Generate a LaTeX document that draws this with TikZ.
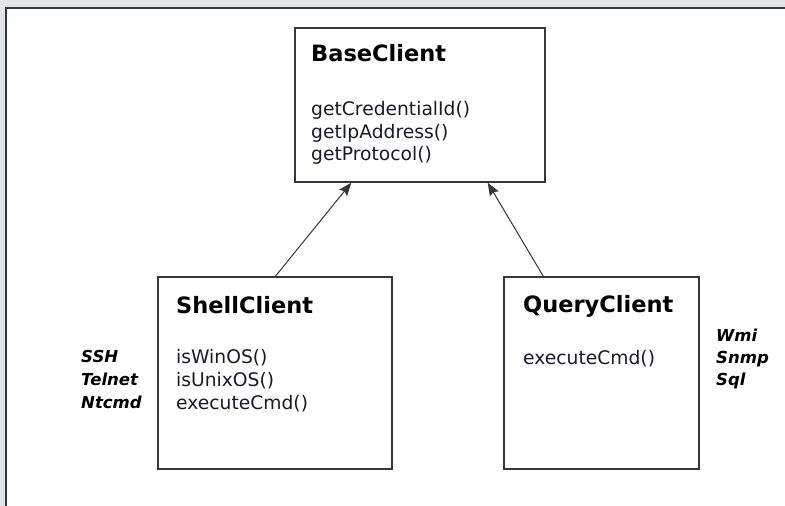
\documentclass[tikz,border=0pt]{standalone}
\usepackage{fontspec}
\setmainfont{DejaVu Sans}
\usetikzlibrary{calc,arrows.meta}
\definecolor{pagegray}{RGB}{227,230,232}
\definecolor{linegray}{RGB}{55,55,55}
\definecolor{methodink}{RGB}{25,25,45}
\tikzset{
	classbox/.style={draw=linegray, line width=1.3pt, fill=white, inner sep=0pt},
	classtitle/.style={anchor=base west, inner sep=0pt, font=\fontsize{22.5}{27}\selectfont\bfseries},
	methodline/.style={anchor=base west, inner sep=0pt, text=methodink, font=\fontsize{18.7}{22}\selectfont},
	protolabel/.style={anchor=base west, inner sep=0pt, font=\fontsize{16.5}{22}\selectfont\bfseries\itshape},
	inherit/.style={draw=linegray, line width=1pt, -{Stealth[length=13pt, width=10pt, inset=2pt]}}
}
\begin{document}
\begin{tikzpicture}[x=1pt, y=-1pt]
		%%%%% FRAME %%%%%
		\fill[pagegray] (0, 0) rectangle (785, 506);
		\useasboundingbox (0, 0) rectangle (785, 506);
		\draw[fill=white, draw=linegray, line width=1.8pt] (6, 8) rectangle (800, 520);
		
		%%%%% CLASSES %%%%%
		\node[classbox, minimum width=250, minimum height=154] (base) at (420, 105) {};
		\node[classbox, minimum width=234, minimum height=192] (shell) at (275, 373) {};
		\node[classbox, minimum width=195, minimum height=192] (query) at (601.5, 373) {};
		
		\node[classtitle] (base-title) at (311, 61) {BaseClient};
		\node[methodline] (base-m1) at (311, 115.5) {getCredentialId()};
		\node[methodline] (base-m2) at (311, 138) {getIpAddress()};
		\node[methodline] (base-m3) at (311, 160.5) {getProtocol()};
		
		\node[classtitle] (shell-title) at (176, 313) {ShellClient};
		\node[methodline] (shell-m1) at (176, 363.5) {isWinOS()};
		\node[methodline] (shell-m2) at (176, 386.5) {isUnixOS()};
		\node[methodline] (shell-m3) at (176, 409.5) {executeCmd()};
		
		\node[classtitle] (query-title) at (523, 312) {QueryClient};
		\node[methodline] (query-m1) at (523, 364) {executeCmd()};
		
		%%%%% PROTOCOLS %%%%%
		\node[protolabel] (ssh) at (81, 362) {SSH};
		\node[protolabel] (telnet) at (81, 385) {Telnet};
		\node[protolabel] (ntcmd) at (81, 408) {Ntcmd};
		
		\node[protolabel] (wmi) at (716, 341) {Wmi};
		\node[protolabel] (snmp) at (716, 363.5) {Snmp};
		\node[protolabel] (sql) at (716, 385.5) {Sql};
		
		%%%%% INHERITANCE %%%%%
		\draw[inherit] ($(shell.north west)+(118, 0)$) -- ($(base.south west)+(57, 0)$);
		\draw[inherit] ($(query.north west)+(40, 0)$) -- ($(base.south east)+(-58, 0)$);
	\end{tikzpicture}
\end{document}
